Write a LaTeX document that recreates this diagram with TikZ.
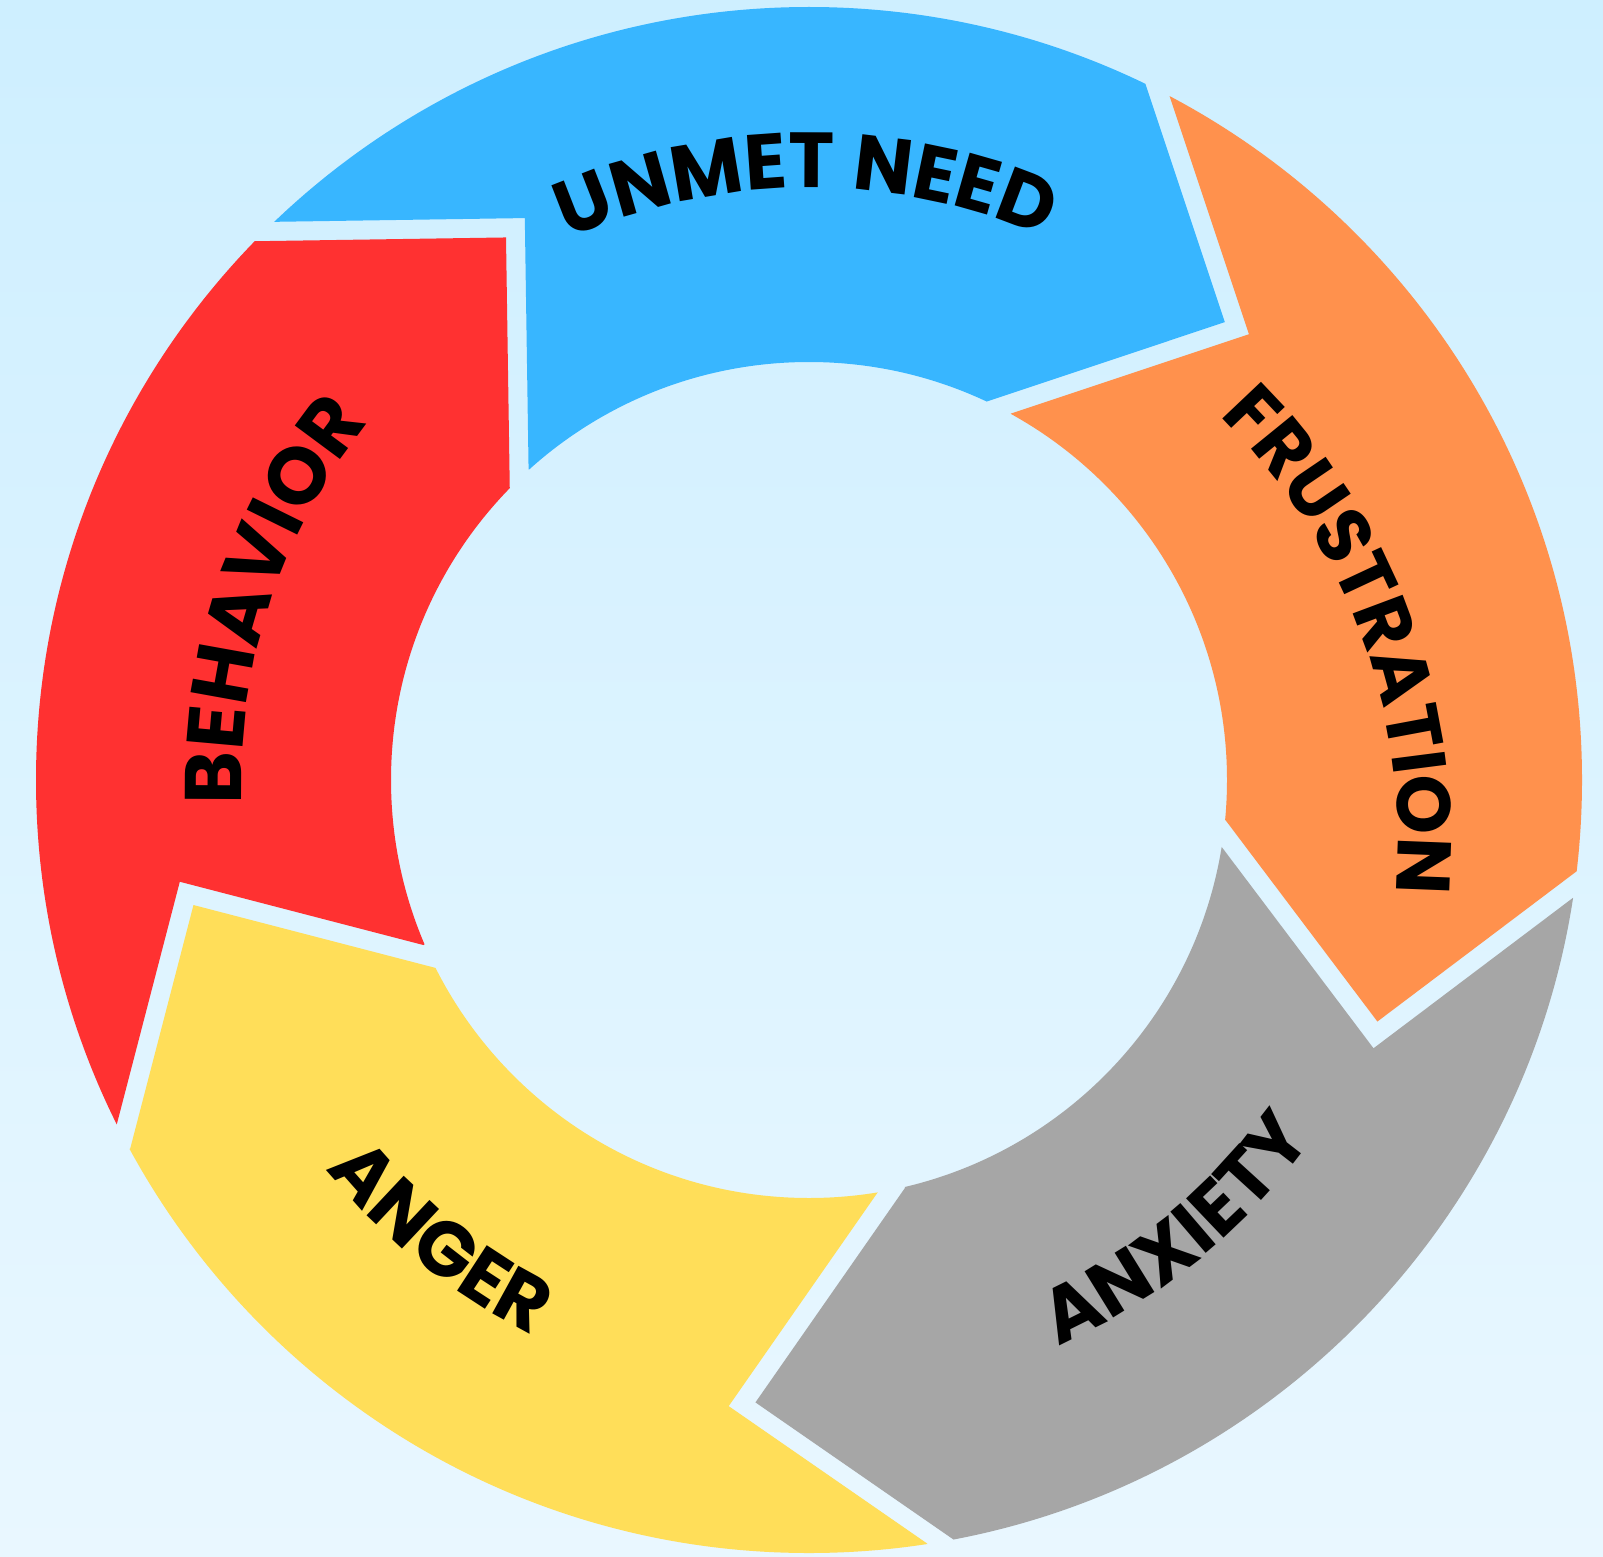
\documentclass[tikz,border=0pt]{standalone}
\usepackage{fontspec}
\newfontfamily\lblfont{Poppins}
\usetikzlibrary{calc,decorations.text}
\definecolor{bgtop}{RGB}{206,239,255}
\definecolor{bgbot}{RGB}{233,247,255}
\definecolor{segblue}{HTML}{38B6FF}
\definecolor{segorange}{HTML}{FF914D}
\definecolor{seggray}{HTML}{A6A6A6}
\definecolor{segyellow}{HTML}{FFDE59}
\definecolor{segred}{HTML}{FF3131}
% boundary #1 with outer angle #2, inner angle #3, tip pushed outward by factor #4
\newcommand\bnd[4]{%
  \coordinate (#1O) at ($(C)+(#2:773)$);
  \coordinate (#1I) at ($(C)+(#3:418)$);
  \coordinate (#1M) at ($(#1O)!0.5!(#1I)$);
  \coordinate (#1T0) at ($(#1M)!1!-90:(#1O)$);
  \coordinate (#1T) at ($(#1T0)+#4*(#1O)-#4*(#1M)$);
  \coordinate (#1V) at ($(#1M)!0.135cm!(#1T0)$);
  \coordinate (#1Ox) at ($(#1O)!-1!(#1I)$);
  \coordinate (#1Ix) at ($(#1I)!-0.8!(#1O)$);}
% segment from tail boundary #1 to head boundary #2, colour #3
\newcommand\ringseg[3]{%
  \fill[#3]
    ($(#1Ox)+(#1V)-(#1M)$) -- ($(#1O)+(#1V)-(#1M)$) -- ($(#1T)+(#1V)-(#1M)$) --
    ($(#1I)+(#1V)-(#1M)$) -- ($(#1Ix)+(#1V)-(#1M)$) --
    ($(#2Ix)-(#2V)+(#2M)$) -- ($(#2I)-(#2V)+(#2M)$) -- ($(#2T)-(#2V)+(#2M)$) --
    ($(#2O)-(#2V)+(#2M)$) -- ($(#2Ox)-(#2V)+(#2M)$) -- cycle;}
\tikzset{
  lbl/.style 2 args={decorate, decoration={text along path, text align=center,
     text={|\lblfont\bfseries\fontsize{#2}{27}\selectfont|#1}}}
}
\begin{document}
\begin{tikzpicture}[x=0.01cm,y=0.01cm]
\useasboundingbox (0,0) rectangle (1603,1556);
\shade[top color=bgtop, bottom color=bgbot] (0,0) rectangle (1603,1556);
\coordinate (C) at (809,776);
\coordinate (F) at (800,714);
\bnd{ba}{134.8}{133.9}{0}
\bnd{bb}{63.2}{63.0}{0}
\bnd{bc}{-7.77}{-7.35}{0.01}
\bnd{bd}{-80.2}{-78.6}{0.08}
\bnd{be}{-152.5}{-155.0}{0}
\begin{scope}
  \clip ([shift={(C)}]0:773) arc[start angle=0, end angle=360, radius=773] -- cycle
        ([shift={(C)}]0:418) arc[start angle=360, end angle=0, radius=418] -- cycle;
  \ringseg{ba}{bb}{segblue}
  \ringseg{bb}{bc}{segorange}
  \ringseg{bc}{bd}{seggray}
  \ringseg{bd}{be}{segyellow}
  \ringseg{be}{ba}{segred}
\end{scope}
\path[lbl={UNMET NEED}{22.2}] ([shift={(C)}]150.3:592) arc[start angle=150.3, end angle=30.3, radius=592];
\path[lbl={FRUSTRATION}{21.6}] ([shift={(F)}]80.3:598) arc[start angle=80.3, end angle=-39.7, radius=598];
\path[lbl={BEHAVIOR}{22.8}] ([shift={(C)}]221.65:567) arc[start angle=221.65, end angle=101.65, radius=567];
\path[lbl={ANXIETY}{22.0}] ([shift={(C)}]-110.8:618) arc[start angle=-110.8, end angle=9.2, radius=618];
\path[lbl={ANGER}{22.0}] ([shift={(C)}]-188.8:620) arc[start angle=-188.8, end angle=-68.8, radius=620];
\end{tikzpicture}
\end{document}
